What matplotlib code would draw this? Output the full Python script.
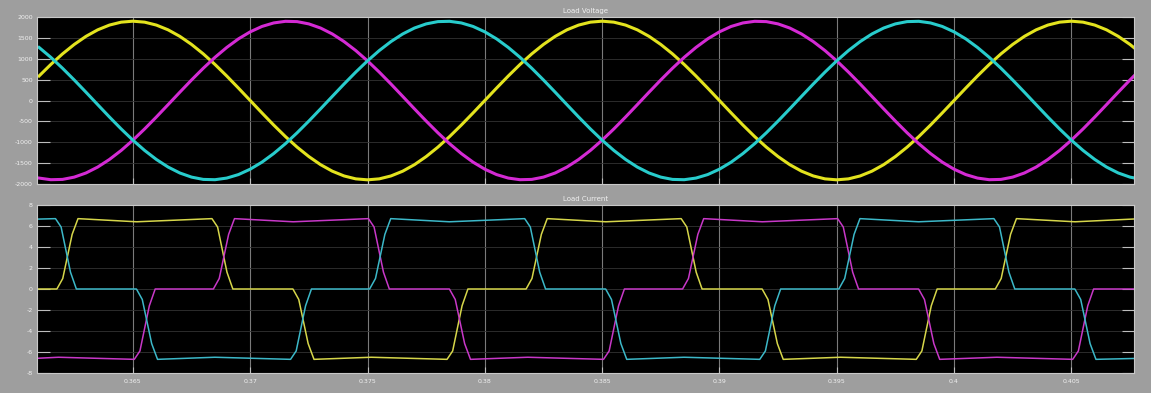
import numpy as np
import matplotlib
matplotlib.use("Agg")
import matplotlib.pyplot as plt

# ---------------- data ----------------
# Load Voltage, sampled every 0.5 ms from t = 0.361 s
v_t0 = 0.361
v_dt = 0.0005
v_yellow = [587, 863, 1117, 1343, 1537, 1693, 1807, 1877, 1900, 1877,
            1807, 1693, 1537, 1343, 1117, 863, 587, 297, 0, -297,
            -587, -863, -1117, -1343, -1537, -1693, -1807, -1877, -1900, -1877,
            -1807, -1693, -1537, -1343, -1117, -863, -587, -297, 0, 297,
            587, 863, 1117, 1343, 1537, 1693, 1807, 1877, 1900, 1877,
            1807, 1693, 1537, 1343, 1117, 863, 587, 297, 0, -297,
            -587, -863, -1117, -1343, -1537, -1693, -1807, -1877, -1900, -1877,
            -1807, -1693, -1537, -1343, -1117, -863, -587, -297, 0, 297,
            587, 863, 1117, 1343, 1537, 1693, 1807, 1877, 1900, 1877,
            1807, 1693, 1537, 1343, 1117]
v_magenta = [-1858, -1897, -1890, -1835, -1736, -1594, -1412, -1196, -950, -681,
             -395, -99, 199, 492, 773, 1035, 1271, 1477, 1645, 1774,
             1858, 1897, 1890, 1835, 1736, 1594, 1412, 1196, 950, 681,
             395, 99, -199, -492, -773, -1035, -1271, -1477, -1645, -1774,
             -1858, -1897, -1890, -1835, -1736, -1594, -1412, -1196, -950, -681,
             -395, -99, 199, 492, 773, 1035, 1271, 1477, 1645, 1774,
             1858, 1897, 1890, 1835, 1736, 1594, 1412, 1196, 950, 681,
             395, 99, -199, -492, -773, -1035, -1271, -1477, -1645, -1774,
             -1858, -1897, -1890, -1835, -1736, -1594, -1412, -1196, -950, -681,
             -395, -99, 199, 492, 773]
v_cyan = [1271, 1035, 773, 492, 199, -99, -395, -681, -950, -1196,
          -1412, -1594, -1736, -1835, -1890, -1897, -1858, -1774, -1645, -1477,
          -1271, -1035, -773, -492, -199, 99, 395, 681, 950, 1196,
          1412, 1594, 1736, 1835, 1890, 1897, 1858, 1774, 1645, 1477,
          1271, 1035, 773, 492, 199, -99, -395, -681, -950, -1196,
          -1412, -1594, -1736, -1835, -1890, -1897, -1858, -1774, -1645, -1477,
          -1271, -1035, -773, -492, -199, 99, 395, 681, 950, 1196,
          1412, 1594, 1736, 1835, 1890, 1897, 1858, 1774, 1645, 1477,
          1271, 1035, 773, 492, 199, -99, -395, -681, -950, -1196,
          -1412, -1594, -1736, -1835, -1890]

# Load Current breakpoints (time s, current)
i_yellow_t = [0.3600, 0.36176, 0.36201, 0.36241, 0.36266, 0.36516, 0.36837, 0.36861, 0.36901, 0.36926,
              0.37182, 0.37207, 0.37247, 0.37272, 0.37516, 0.37839, 0.37863, 0.37903, 0.37928,
              0.38176, 0.38201, 0.38241, 0.38266, 0.38516, 0.38837, 0.38861, 0.38901, 0.38926,
              0.39182, 0.39207, 0.39247, 0.39272, 0.39516, 0.39839, 0.39863, 0.39903, 0.39928,
              0.40176, 0.40201, 0.40241, 0.40266, 0.40516, 0.40800]
i_yellow = [0.0, 0.0, 1.0, 5.2, 6.7, 6.4, 6.7, 5.9, 1.6, 0.0,
            0.0, -1.0, -5.2, -6.7, -6.5, -6.7, -5.9, -1.6, 0.0,
            0.0, 1.0, 5.2, 6.7, 6.4, 6.7, 5.9, 1.6, 0.0,
            0.0, -1.0, -5.2, -6.7, -6.5, -6.7, -5.9, -1.6, 0.0,
            0.0, 1.0, 5.2, 6.7, 6.4, 6.7]

i_magenta_t = [0.3600, 0.36183, 0.36506, 0.36530, 0.36570, 0.36595,
               0.36843, 0.36868, 0.36908, 0.36933, 0.37183, 0.37504, 0.37528, 0.37568, 0.37593,
               0.37849, 0.37874, 0.37914, 0.37939, 0.38183, 0.38506, 0.38530, 0.38570, 0.38595,
               0.38843, 0.38868, 0.38908, 0.38933, 0.39183, 0.39504, 0.39528, 0.39568, 0.39593,
               0.39849, 0.39874, 0.39914, 0.39939, 0.40183, 0.40506, 0.40530, 0.40570, 0.40595,
               0.40800]
i_magenta = [-6.7, -6.5, -6.7, -5.9, -1.6, 0.0,
             0.0, 1.0, 5.2, 6.7, 6.4, 6.7, 5.9, 1.6, 0.0,
             0.0, -1.0, -5.2, -6.7, -6.5, -6.7, -5.9, -1.6, 0.0,
             0.0, 1.0, 5.2, 6.7, 6.4, 6.7, 5.9, 1.6, 0.0,
             0.0, -1.0, -5.2, -6.7, -6.5, -6.7, -5.9, -1.6, 0.0,
             0.0]

i_cyan_t = [0.3600, 0.36170, 0.36194, 0.36234, 0.36259,
            0.36515, 0.36540, 0.36580, 0.36605, 0.36849, 0.37172, 0.37196, 0.37236, 0.37261,
            0.37509, 0.37534, 0.37574, 0.37599, 0.37849, 0.38170, 0.38194, 0.38234, 0.38259,
            0.38515, 0.38540, 0.38580, 0.38605, 0.38849, 0.39172, 0.39196, 0.39236, 0.39261,
            0.39509, 0.39534, 0.39574, 0.39599, 0.39849, 0.40170, 0.40194, 0.40234, 0.40259,
            0.40515, 0.40540, 0.40580, 0.40605, 0.40800]
i_cyan = [6.6, 6.7, 5.9, 1.6, 0.0,
          0.0, -1.0, -5.2, -6.7, -6.5, -6.7, -5.9, -1.6, 0.0,
          0.0, 1.0, 5.2, 6.7, 6.4, 6.7, 5.9, 1.6, 0.0,
          0.0, -1.0, -5.2, -6.7, -6.5, -6.7, -5.9, -1.6, 0.0,
          0.0, 1.0, 5.2, 6.7, 6.4, 6.7, 5.9, 1.6, 0.0,
          0.0, -1.0, -5.2, -6.7, -6.6]

x_ticks = [0.365, 0.37, 0.375, 0.38, 0.385, 0.39, 0.395, 0.4, 0.405]
x_tick_labels = ["0.365", "0.37", "0.375", "0.38", "0.385", "0.39", "0.395", "0.4", "0.405"]
v_ticks = [-2000, -1500, -1000, -500, 0, 500, 1000, 1500, 2000]
i_ticks = [-8, -6, -4, -2, 0, 2, 4, 6, 8]
titles = ["Load Voltage", "Load Current"]

# ---------------- style ----------------
BG = "#9e9e9e"
YEL = "#e3e31e"
MAG = "#d42ad4"
CYA = "#28cccc"
TXT = "#f0f0f0"

fig = plt.figure(figsize=(11.51, 3.93), dpi=100, facecolor=BG)
ax1 = fig.add_axes([0.0321, 0.5318, 0.9531, 0.4249])
ax2 = fig.add_axes([0.0321, 0.0509, 0.9531, 0.4275])

xlim = (0.36091, 0.40767)

def style(ax, yticks, ylim, title, show_x):
    ax.set_facecolor("black")
    ax.set_xlim(*xlim)
    ax.set_ylim(*ylim)
    ax.set_xticks(x_ticks)
    ax.set_yticks(yticks)
    ax.set_yticklabels([str(v) for v in yticks], fontsize=4.5, color=TXT)
    if show_x:
        ax.set_xticklabels(x_tick_labels, fontsize=4.5, color=TXT)
    else:
        ax.set_xticklabels([])
    ax.tick_params(axis="both", direction="in", length=9, width=0.8, color="#bdbdbd",
                   pad=3, right=True, top=False)
    ax.tick_params(axis="x", length=4, pad=4)
    ax.grid(True, axis="y", color="#333333", linewidth=0.6, linestyle="-")
    ax.grid(True, axis="x", color="#7a7a7a", linewidth=0.8)
    for s in ax.spines.values():
        s.set_color("#c8c8c8")
        s.set_linewidth(0.8)
    ax.set_title(title, fontsize=5, color=TXT, pad=3)

style(ax1, v_ticks, (-2000, 2000), titles[0], False)
style(ax2, i_ticks, (-8, 8), titles[1], True)

v_time = v_t0 + v_dt * np.arange(len(v_yellow))
ax1.plot(v_time, v_yellow, color=YEL, lw=2.2)
ax1.plot(v_time, v_magenta, color=MAG, lw=2.2)
ax1.plot(v_time, v_cyan, color=CYA, lw=2.2)

ax2.plot(i_yellow_t, i_yellow, color="#d6d64a", lw=1.1)
ax2.plot(i_magenta_t, i_magenta, color="#c838c8", lw=1.1)
ax2.plot(i_cyan_t, i_cyan, color="#3cb8c8", lw=1.1)

fig.savefig("out.png", dpi=100, facecolor=BG)
